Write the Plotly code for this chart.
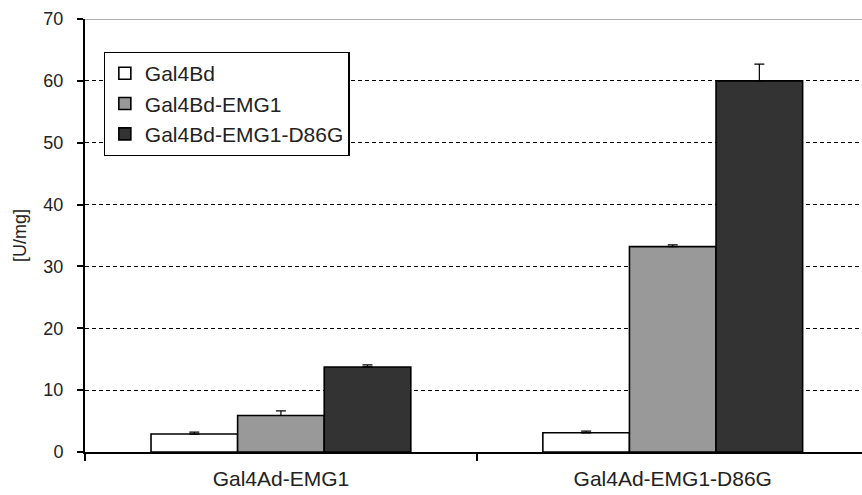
import plotly.graph_objects as go

categories = ["Gal4Ad-EMG1", "Gal4Ad-EMG1-D86G"]
series_names = ["Gal4Bd", "Gal4Bd-EMG1", "Gal4Bd-EMG1-D86G"]
gal4bd = [2.9, 3.1]
gal4bd_emg1 = [5.9, 33.2]
gal4bd_emg1_d86g = [13.75, 60.0]
err_gal4bd = [0.3, 0.27]
err_gal4bd_emg1 = [0.75, 0.27]
err_gal4bd_emg1_d86g = [0.35, 2.7]
y_ticks = [0, 10, 20, 30, 40, 50, 60, 70]

colors = ["#ffffff", "#999999", "#333333"]
values = [gal4bd, gal4bd_emg1, gal4bd_emg1_d86g]
errors = [err_gal4bd, err_gal4bd_emg1, err_gal4bd_emg1_d86g]

fig = go.Figure()
for name, vals, errs, col in zip(series_names, values, errors, colors):
    fig.add_trace(go.Bar(
        x=categories, y=vals, name=name, legendgroup=name,
        marker=dict(color=col, line=dict(color="#000000", width=1.6)),
        error_y=dict(type="data", symmetric=False, array=errs,
                     arrayminus=[0] * len(errs), visible=True,
                     color="#000000", thickness=1.2, width=5),
    ))

font_family = "Liberation Sans, Arial, sans-serif"
fig.update_layout(
    width=862, height=495,
    margin=dict(l=85, r=0, t=19, b=43, autoexpand=False),
    paper_bgcolor="white", plot_bgcolor="white",
    barmode="group", bargap=0.337, bargroupgap=0,
    font=dict(family=font_family, size=18, color="#222222"),
    showlegend=True,
    legend=dict(
        x=0.024, y=0.924, xanchor="left", yanchor="top",
        bgcolor="white", bordercolor="#000000", borderwidth=1.2,
        font=dict(family=font_family, size=21, color="#222222"),
        traceorder="normal", tracegroupgap=4,
    ),
    xaxis=dict(
        range=[-0.5, 1.483], showgrid=False, automargin=False,
        showline=True, linecolor="#000000", linewidth=1.5,
        ticks="outside", tickson="boundaries", ticklen=7, tickwidth=1.5,
        tickcolor="#000000",
        tickfont=dict(family=font_family, size=21, color="#222222"),
        ticklabelstandoff=7,
    ),
    yaxis=dict(
        range=[0, 70], tickvals=y_ticks, automargin=False,
        showgrid=True, gridcolor="#000000", gridwidth=1.2, griddash="4px,3px",
        showline=True, linecolor="#000000", linewidth=2,
        ticks="outside", ticklen=6, tickwidth=1.5, tickcolor="#000000",
        tickfont=dict(family=font_family, size=18, color="#222222"),
        ticklabelstandoff=10,
        zeroline=False,
        title=dict(text="[U/mg]", font=dict(family=font_family, size=18, color="#222222"),
                   standoff=12),
    ),
    shapes=[dict(type="line", xref="paper", yref="y", x0=0, x1=1, y0=70, y1=70,
                 line=dict(color="#b0b0b0", width=2), layer="above")],
)

fig.write_html(
    "out.html",
    config={"displayModeBar": False},
    post_script="document.body.style.margin='0';document.body.style.overflow='hidden';",
)
